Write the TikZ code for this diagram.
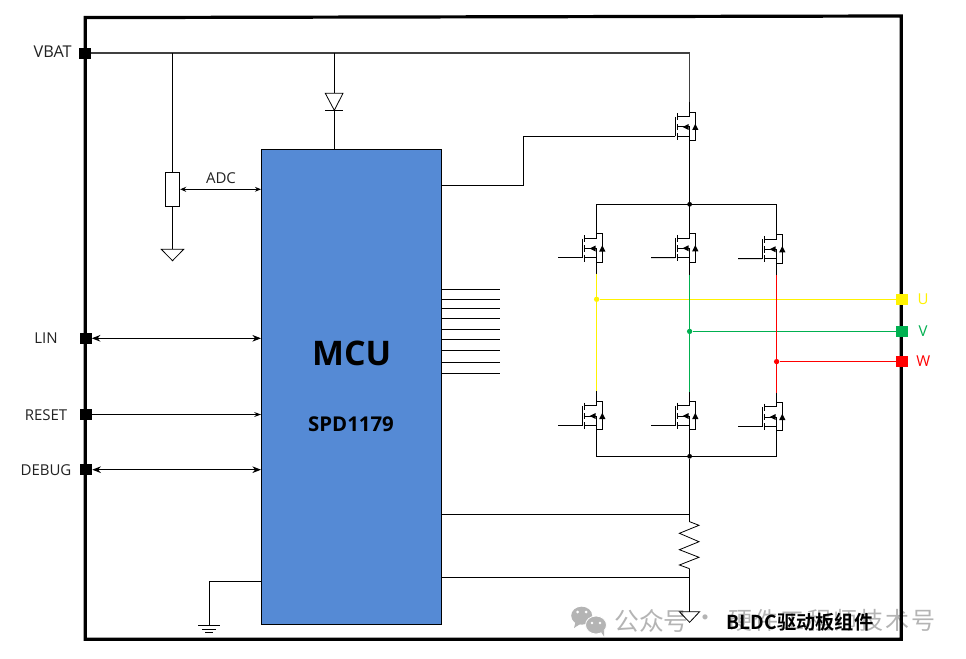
\documentclass[tikz,border=0pt]{standalone}
\usepackage{fontspec}
\setmainfont{Open Sans}
\newfontfamily\cjkreg{Noto Sans CJK SC}
\newfontfamily\cjkspaced[LetterSpace=9]{Noto Sans CJK SC}
\newfontfamily\cjkbold[BoldFont={Noto Sans CJK SC Bold}]{Noto Sans CJK SC}
\usetikzlibrary{arrows.meta}
\definecolor{mcublue}{HTML}{558AD5}
\definecolor{ugreen}{HTML}{00B050}
\definecolor{wmgray}{HTML}{B4B4B4}
\definecolor{labelgray}{HTML}{222222}
\tikzset{
  wire/.style={draw=black,line width=0.75pt},
  railwire/.style={draw=black!75,line width=1.15pt},
  outerbox/.style={draw=black,line width=2.4pt,line join=miter},
  term/.style={rectangle,fill=black,draw=none,inner sep=0pt,minimum width=9pt,minimum height=8.4pt},
  uterm/.style={term,fill=yellow},
  vterm/.style={term,fill=ugreen},
  wterm/.style={term,fill=red},
  plabel/.style={inner sep=0pt,font=\fontsize{11.25}{13}\selectfont,text=labelgray},
  biarrow/.style={wire,{Stealth[length=6.5pt,width=5pt]}-{Stealth[length=6.5pt,width=5pt]}},
  oneway/.style={wire,-{Stealth[length=5pt,width=3.6pt]}},
  adcarrow/.style={wire,{Stealth[length=4.5pt,width=3.8pt]}-{Stealth[length=4.5pt,width=3.6pt]}},
  dot/.style={circle,fill=black,draw=none,inner sep=0pt,minimum size=3.6pt},
  mcubox/.style={rectangle,draw=black,line width=0.75pt,fill=mcublue,minimum width=135pt,minimum height=356.25pt,inner sep=0pt},
  potbox/.style={rectangle,draw=black,line width=0.75pt,fill=white,minimum width=10.8pt,minimum height=25.5pt,inner sep=0pt},
  gndtri/.style={draw=black,line width=0.6pt,line join=miter},
  colwire/.style={line width=1pt},
}
% name, centre x, centre y, x of gate lead end
\newcommand{\mosfet}[4]{%
  \coordinate (#1) at (#2,#3);
  \begin{scope}[shift={(#2,#3)}]
    \coordinate (#1-d) at (0,-14.7);
    \coordinate (#1-s) at (0,13.7);
    \draw[wire] (-14.4,-10) -- (-14.4,9.5);
    \draw[wire] (-12.4,-13.5) -- (-12.4,-6.5);
    \draw[wire] (-12.4,-3.2) -- (-12.4,3.2);
    \draw[wire] (-12.4,6) -- (-12.4,13);
    \draw[wire] (-12.4,-10.3) -- (0,-10.3) -- (0,-14.7) -- (5.6,-14.7) -- (5.6,13.7) -- (0,13.7) -- (0,0) -- (-12.4,0);
    \draw[wire] (-12.4,9.3) -- (0,9.3);
    \fill[black] (-7,0) -- (-1,-3) -- (-1,3) -- cycle;
    \fill[black] (5.7,-3.2) -- (8.8,3) -- (2.6,3) -- cycle;
    \coordinate (#1-g) at (-14.4,9.3);
  \end{scope}
  \draw[wire] (#1-g) -- (#4,#3+9.3);
}
\begin{document}
\begin{tikzpicture}[x=0.75pt,y=-0.75pt]
\useasboundingbox (0,0) rectangle (966,659);
\fill[white] (0,0) rectangle (966,659);

% watermark
\fill[wmgray] (581.7,615.7) ellipse (10.5 and 9);
\fill[wmgray] (575.5,622) -- (574,628) -- (581,623.5) -- cycle;
\fill[wmgray,draw=white,line width=0.6pt] (596,625) ellipse (10.5 and 9);
\fill[wmgray] (601,632) -- (604,636.5) -- (604,630) -- cycle;
\fill[white] (577.5,612) circle (1.5) (586,612) circle (1.5) (592,623) circle (1.4) (600,623) circle (1.4);
\node[inner sep=0pt,anchor=west,text=wmgray,font=\cjkreg\fontsize{18.6}{20}\selectfont] (wm1) at (614,620.7) {公众号};
\node[inner sep=0pt,text=wmgray,font=\cjkreg\fontsize{18}{20}\selectfont] (wm2) at (705,620.7) {·};
\node[inner sep=0pt,anchor=east,text=wmgray,font=\cjkspaced\fontsize{18}{20}\selectfont] (wm3) at (936,620.7) {硬件工程师技术号};

% outer box
\draw[outerbox] (85.3,17.6) -- (901.3,16) -- (901.3,639.3) -- (85.3,639.3) -- cycle;

% terminals
\node[term] (vbat) at (85,53.2) {};
\node[term] (lin) at (85.5,338.3) {};
\node[term] (reset) at (86,414.5) {};
\node[term] (debug) at (86,469.7) {};
\node[uterm] (tu) at (902,299.3) {};
\node[vterm] (tv) at (902,331.4) {};
\node[wterm] (tw) at (902,361.6) {};

\node[plabel,anchor=east,font=\fontsize{12.2}{14}\selectfont] (lvbat) at (72,52) {VBAT};
\node[plabel] (llin) at (46,338) {LIN};
\node[plabel] (lreset) at (46,415) {RESET};
\node[plabel] (ldebug) at (46,470) {DEBUG};
\node[plabel,text=yellow] (lu) at (923,299) {U};
\node[plabel,text=ugreen] (lv) at (923,331) {V};
\node[plabel,text=red] (lw) at (923.3,361) {W};

% MCU
\node[mcubox] (mcu) at (351.5,386.8) {};
\node[inner sep=0pt,font=\bfseries\fontsize{25.4}{28}\selectfont,text=black] (mcut) at (351.7,353) {MCU};
\node[inner sep=0pt,font=\bfseries\fontsize{15.3}{17}\selectfont,text=black] (spd) at (351,424) {SPD1179};

% pin stubs
\foreach \i/\yy in {1/289.3,2/299.3,3/308.3,4/318.3,5/329.3,6/339.3,7/350.3,8/362.3,9/373.3}{
  \coordinate (stub\i) at (499.7,\yy);
  \draw[wire] (mcu.east |- stub\i) -- (stub\i);
}

% VBAT rail
\coordinate (railend) at (689.6,53.2);
\coordinate (railtap) at (689.6,101.7);
\coordinate (potjoin) at (172.5,53.2);
\coordinate (diojoin) at (334.3,53.2);
\draw[railwire] (vbat) -- (railend) -- (railtap);

% potentiometer + ADC
\node[potbox] (pot) at (172.5,189.3) {};
\draw[wire] (potjoin) -- (pot.north);
\coordinate (gnd1) at (172.5,249.3);
\draw[wire] (pot.south) -- (gnd1);
\draw[gndtri] (161.3,249.3) -- (183.7,249.3) -- (172.5,260.7) -- cycle;
\draw[adcarrow] (pot.east) -- (mcu.west |- pot.east);
\node[plabel] (ladc) at (221,178.5) {ADC};

% diode
\coordinate (dio-a) at (334.3,93.3);
\coordinate (dio-k) at (334.3,110.3);
\draw[wire] (diojoin) -- (dio-a);
\draw[gndtri] (325.3,93.3) -- (343,93.3) -- (dio-k) -- cycle;
\draw[wire] (325.3,110.3) -- (343,110.3);
\draw[wire] (dio-k) -- (mcu.north -| dio-k);

% signals
\draw[biarrow] (lin) -- (mcu.west |- lin);
\draw[oneway] (reset) -- (mcu.west |- reset);
\draw[biarrow] (debug) -- (mcu.west |- debug);

% MOSFETs
\mosfet{qtop}{689.6}{127}{675.2}
\mosfet{ql1}{596.6}{248.5}{558}
\mosfet{qm1}{689.6}{248.3}{651}
\mosfet{qr1}{776.6}{249.3}{738}
\mosfet{ql2}{596.6}{416}{558}
\mosfet{qm2}{689.6}{416}{651}
\mosfet{qr2}{776.6}{417}{738}

\draw[wire] (railtap) -- (qtop-d);
\coordinate (g1) at (523,185.5);
\coordinate (g2) at (523,136.3);
\draw[wire] (mcu.east |- g1) -- (g1) -- (g2) -- (qtop-g);

% buses
\node[dot] (jt) at (689.6,204.3) {};
\node[dot] (jb) at (689.6,456.3) {};
\draw[wire] (qtop-s) -- (qm1-d);
\draw[wire] (ql1-d) -- (ql1-d |- jt) -- (qr1-d |- jt) -- (qr1-d);
\draw[wire] (ql2-s) -- (ql2-s |- jb) -- (qr2-s |- jb) -- (qr2-s);
\draw[wire] (qm2-s) -- (jb);

% phase outputs
\coordinate (yt) at (596.6,273.5);
\coordinate (yb) at (596.6,391);
\coordinate (gt) at (689.6,274.5);
\coordinate (gb) at (689.6,392);
\coordinate (rt) at (776.6,275);
\coordinate (rb) at (776.6,393);
\draw[wire] (ql1-s) -- (yt);
\draw[wire] (qm1-s) -- (gt);
\draw[wire] (qr1-s) -- (rt);
\draw[wire] (yb) -- (ql2-d);
\draw[wire] (gb) -- (qm2-d);
\draw[wire] (rb) -- (qr2-d);
\node[dot,fill=yellow,minimum size=4pt] (ju) at (596.6,299.3) {};
\node[dot,fill=ugreen,minimum size=4pt] (jv) at (689.6,331.4) {};
\node[dot,fill=red,minimum size=4pt] (jw) at (776.6,361.6) {};
\draw[colwire,yellow] (yt) -- (yb);
\draw[colwire,yellow] (ju) -- (tu);
\draw[colwire,ugreen] (gt) -- (gb);
\draw[colwire,ugreen] (jv) -- (tv);
\draw[colwire,red] (rt) -- (rb);
\draw[colwire,red] (jw) -- (tw);

% shunt
\coordinate (sh1) at (689.6,521.7);
\coordinate (sh2) at (689.6,568.7);
\coordinate (gnd2) at (689.6,611.7);
\draw[wire] (jb) -- (sh1);
\draw[wire,line width=0.6pt,line join=miter] (sh1) -- (699,525.3) -- (679.4,533.3) -- (699,541.7) -- (679.4,549.7) -- (699,557.3) -- (679.4,565) -- (sh2);
\draw[wire] (sh2) -- (gnd2);
\draw[gndtri] (679.3,611.7) -- (699.6,611.7) -- (689.6,622.3) -- cycle;
\coordinate (s1) at (689.6,514.3);
\coordinate (s2) at (689.6,577.3);
\draw[wire] (mcu.east |- s1) -- (s1);
\draw[wire] (mcu.east |- s2) -- (s2);

% MCU ground
\coordinate (mg1) at (209.3,581.3);
\coordinate (mg2) at (209.3,625.3);
\draw[wire] (mcu.west |- mg1) -- (mg1) -- (mg2);
\draw[wire] (198,625.3) -- (220,625.3);
\draw[wire] (202,629) -- (216,629);
\draw[wire] (205,632.3) -- (213,632.3);

% caption
\node[inner sep=0pt,font=\cjkbold\bfseries\fontsize{14.4}{16}\selectfont,text=black] (cap) at (800,622.7) {BLDC驱动板组件};
\end{tikzpicture}
\end{document}
